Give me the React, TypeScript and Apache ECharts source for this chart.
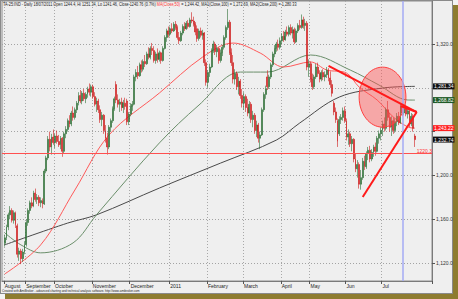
import React, { useEffect, useRef } from "react";
import * as echarts from "echarts";

// ---- axis / calendar ----
const months = ["August", "September", "October", "November", "December", "2011", "February", "March", "April", "May", "Jun", "Jul"];
const barsPerMonth = [12, 16, 21, 21, 22, 21, 20, 21, 16, 20, 20, 19];
const leadingBlanks = 1;
const trailingBlanks = 9;
const gridValues = [1120, 1160, 1200, 1240, 1280, 1320];
// 1,280.0 and 1,240.0 are hidden under the value boxes in the original
const yTickLabels = [1120, 1160, 1200, 1320];
const yMin = 1103.6;
const yMax = 1359.3;

// ---- daily OHLC (Aug 2010 .. Jul 2011) ----
const opens = [
  1138, 1143, 1153, 1164, 1168, 1159, 1166, 1154, 1128, 1131, 1124, 1130,
  1137, 1157, 1168, 1175, 1172, 1184, 1178, 1180, 1175, 1177, 1174, 1204, 1216, 1233, 1226, 1235,
  1230, 1236, 1231, 1228, 1234, 1222, 1238, 1242, 1250, 1247, 1257, 1253, 1260, 1266, 1273, 1268, 1275, 1270, 1274, 1279, 1276,
  1281, 1272, 1265, 1268, 1260, 1251, 1255, 1241, 1234, 1226, 1244, 1250, 1261, 1283, 1269, 1265, 1267, 1262, 1266, 1268, 1249,
  1256, 1263, 1265, 1290, 1294, 1291, 1301, 1297, 1304, 1302, 1311, 1308, 1316, 1314, 1305, 1311, 1306, 1312, 1305, 1316, 1326, 1332,
  1329, 1334, 1332, 1338, 1335, 1326, 1323, 1330, 1336, 1334, 1339, 1336, 1342, 1341, 1338, 1334, 1325, 1332, 1328, 1330, 1303,
  1285, 1294, 1299, 1314, 1320, 1313, 1316, 1305, 1312, 1317, 1326, 1335, 1340, 1312, 1303, 1288, 1293, 1281, 1286, 1273,
  1266, 1272, 1262, 1257, 1265, 1251, 1255, 1241, 1246, 1234, 1237, 1260, 1274, 1290, 1281, 1290, 1301, 1311, 1316, 1320, 1317,
  1323, 1327, 1324, 1331, 1329, 1335, 1330, 1333, 1322, 1332, 1337, 1335, 1342, 1337, 1339, 1299,
  1302, 1288, 1281, 1290, 1299, 1293, 1288, 1294, 1290, 1292, 1296, 1289, 1283, 1266, 1258, 1250, 1238, 1251, 1253, 1259,
  1250, 1235, 1238, 1229, 1233, 1215, 1206, 1210, 1192, 1198, 1213, 1208, 1220, 1223, 1215, 1221, 1226, 1222, 1234, 1238,
  1241, 1247, 1243, 1260, 1253, 1244, 1250, 1241, 1249, 1254, 1248, 1263, 1257, 1261, 1256, 1259, 1247, 1254, 1236,
];
const highs = [
  1146, 1155, 1166, 1172, 1170, 1168, 1167, 1156, 1134, 1133, 1133, 1140,
  1160, 1170, 1177, 1180, 1186, 1188, 1183, 1182, 1180, 1179, 1206, 1218, 1236, 1240, 1238, 1242,
  1238, 1241, 1237, 1236, 1235, 1240, 1245, 1252, 1255, 1259, 1263, 1262, 1268, 1276, 1278, 1277, 1279, 1276, 1281, 1284, 1283,
  1283, 1276, 1271, 1270, 1264, 1258, 1256, 1246, 1239, 1246, 1252, 1263, 1272, 1286, 1274, 1270, 1271, 1269, 1271, 1270, 1258,
  1266, 1268, 1292, 1297, 1300, 1303, 1305, 1306, 1310, 1313, 1317, 1318, 1321, 1318, 1313, 1316, 1314, 1313, 1318, 1328, 1334, 1336,
  1336, 1339, 1340, 1341, 1337, 1331, 1332, 1338, 1340, 1341, 1342, 1344, 1349, 1345, 1340, 1337, 1334, 1335, 1333, 1331, 1306,
  1296, 1302, 1316, 1323, 1322, 1319, 1317, 1315, 1319, 1328, 1337, 1352, 1342, 1316, 1310, 1297, 1295, 1290, 1288, 1279,
  1276, 1274, 1270, 1268, 1267, 1259, 1257, 1250, 1248, 1240, 1262, 1276, 1282, 1296, 1292, 1303, 1313, 1319, 1322, 1324, 1326,
  1330, 1332, 1333, 1336, 1337, 1338, 1336, 1335, 1334, 1339, 1342, 1347, 1345, 1343, 1341, 1306,
  1304, 1293, 1292, 1302, 1303, 1296, 1296, 1297, 1295, 1299, 1298, 1295, 1287, 1268, 1262, 1252, 1254, 1256, 1262, 1263,
  1252, 1242, 1240, 1236, 1234, 1220, 1214, 1212, 1205, 1216, 1218, 1222, 1226, 1227, 1224, 1228, 1230, 1236, 1241, 1244,
  1250, 1253, 1262, 1268, 1257, 1254, 1253, 1252, 1257, 1258, 1266, 1266, 1264, 1263, 1262, 1260, 1257, 1256, 1238,
];
const lows = [
  1135, 1141, 1150, 1160, 1157, 1156, 1152, 1125, 1122, 1119, 1121, 1128,
  1135, 1154, 1165, 1170, 1171, 1176, 1174, 1172, 1171, 1170, 1173, 1202, 1214, 1222, 1219, 1228,
  1225, 1229, 1226, 1224, 1217, 1220, 1234, 1240, 1244, 1245, 1250, 1251, 1257, 1264, 1266, 1265, 1268, 1266, 1271, 1273, 1272,
  1270, 1263, 1258, 1257, 1248, 1245, 1238, 1230, 1219, 1224, 1240, 1248, 1259, 1266, 1262, 1258, 1259, 1257, 1260, 1246, 1246,
  1254, 1259, 1264, 1286, 1288, 1290, 1294, 1295, 1299, 1301, 1306, 1306, 1310, 1303, 1302, 1303, 1304, 1302, 1304, 1315, 1322, 1326,
  1327, 1330, 1331, 1333, 1324, 1320, 1322, 1328, 1332, 1333, 1334, 1335, 1339, 1336, 1328, 1322, 1323, 1326, 1324, 1300, 1282,
  1280, 1290, 1298, 1312, 1310, 1308, 1302, 1303, 1309, 1315, 1324, 1333, 1310, 1300, 1284, 1283, 1278, 1274, 1270, 1262,
  1260, 1258, 1254, 1252, 1248, 1244, 1238, 1235, 1230, 1224, 1236, 1258, 1270, 1278, 1279, 1288, 1299, 1308, 1313, 1314, 1315,
  1320, 1322, 1323, 1327, 1327, 1328, 1325, 1320, 1321, 1330, 1333, 1334, 1334, 1332, 1296, 1290,
  1285, 1278, 1279, 1288, 1290, 1285, 1286, 1287, 1286, 1289, 1286, 1280, 1272, 1255, 1248, 1226, 1236, 1247, 1250, 1248,
  1232, 1228, 1226, 1222, 1212, 1203, 1198, 1188, 1187, 1196, 1205, 1206, 1214, 1212, 1213, 1217, 1218, 1221, 1229, 1232,
  1236, 1240, 1241, 1250, 1240, 1236, 1238, 1239, 1245, 1246, 1247, 1254, 1255, 1254, 1252, 1244, 1245, 1240, 1226,
];
const closes = [
  1143, 1153, 1164, 1168, 1159, 1166, 1155, 1128, 1131, 1124, 1130, 1137,
  1157, 1168, 1175, 1172, 1184, 1178, 1180, 1175, 1177, 1174, 1204, 1216, 1233, 1226, 1235, 1230,
  1236, 1231, 1228, 1234, 1222, 1238, 1242, 1250, 1247, 1257, 1253, 1260, 1266, 1273, 1268, 1275, 1270, 1274, 1279, 1276, 1281,
  1272, 1265, 1268, 1260, 1251, 1255, 1241, 1234, 1226, 1244, 1250, 1261, 1270, 1269, 1265, 1267, 1262, 1266, 1263, 1249, 1256,
  1263, 1265, 1290, 1294, 1291, 1301, 1297, 1304, 1302, 1311, 1308, 1316, 1314, 1305, 1311, 1306, 1312, 1305, 1316, 1326, 1332, 1329,
  1334, 1332, 1338, 1335, 1326, 1323, 1330, 1336, 1334, 1339, 1336, 1342, 1341, 1338, 1331, 1325, 1332, 1328, 1330, 1303, 1285,
  1294, 1299, 1314, 1320, 1313, 1316, 1305, 1312, 1317, 1326, 1335, 1340, 1312, 1303, 1288, 1293, 1281, 1286, 1273, 1266,
  1272, 1262, 1257, 1265, 1251, 1255, 1241, 1246, 1234, 1237, 1260, 1274, 1279, 1281, 1290, 1301, 1311, 1316, 1320, 1317, 1323,
  1327, 1324, 1331, 1329, 1335, 1330, 1333, 1322, 1332, 1337, 1335, 1342, 1337, 1339, 1299, 1302,
  1288, 1281, 1290, 1299, 1293, 1288, 1294, 1290, 1292, 1296, 1289, 1283, 1275, 1258, 1251, 1231, 1251, 1253, 1259, 1250,
  1235, 1238, 1229, 1233, 1215, 1206, 1210, 1192, 1198, 1213, 1208, 1220, 1223, 1215, 1221, 1226, 1222, 1234, 1238, 1241,
  1247, 1243, 1260, 1253, 1244, 1250, 1241, 1249, 1254, 1248, 1263, 1257, 1261, 1256, 1259, 1247, 1254, 1243, 1232.74,
];

// ---- moving averages, read at points along the curves: [bar, value] ----
const ma50Points: [number, number][] = [
  [0, 1110], [20, 1136.6], [39, 1186.7], [58, 1237], [86, 1275.3], [110, 1308.1], [127, 1320.9],
  [142, 1311.8], [155, 1299], [170, 1303.6], [179, 1296.3], [190, 1293.5], [197, 1280.7],
  [207, 1268.9], [216, 1253.4], [224, 1244.3], [228, 1243.22],
];
const ma100Points: [number, number][] = [
  [0, 1147.6], [9, 1136.6], [20, 1129.3], [38, 1138.4], [51, 1164], [86, 1229.7], [108, 1264.3],
  [131, 1294.4], [146, 1294.4], [170, 1310], [192, 1296.3], [208, 1282.6], [224, 1268.9], [228, 1268.82],
];
const ma200Points: [number, number][] = [
  [0, 1136.6], [35, 1156.5], [51, 1164], [86, 1188.5], [120, 1211.3], [151, 1232.3], [164, 1247.9],
  [186, 1271.6], [210, 1279.8], [228, 1281.34],
];

// ---- annotations (in bar / price units) ----
const supportLevel = 1220.3;
const cursorBar = 221;
const trendLines: [number, number][][] = [
  [[180, 1300], [229, 1257.9]],
  [[229, 1257.9], [199, 1180.3]],
  [[220, 1263.4], [229, 1257.9]],
];
const highlight = { bar: 210, value: 1271.5, halfWidthBars: 13, halfHeight: 27.4 };
const lastValues = { ma200: 1281.34, ma100: 1268.82, ma50: 1243.22, close: 1232.74 };

const titleMain = "TA-25:IND - Daily 18/07/2011 Open 1244.4, Hi 1251.34, Lo 1241.46, Close 1240.76 (0.7%) ";
const titleMa50 = "MA(Close,50)";
const titleRest = " = 1,244.42, MA1(Close,100) = 1,272.69, MA2(Close,200) = 1,280.33";
const credits = "Created with AmiBroker - advanced charting and technical analysis software. http://www.amibroker.com";

// ---- build categories ----
const categories: string[] = [];
const monthStarts = new Set<number>();
for (let i = 0; i < leadingBlanks; i++) categories.push(`pad-${i}`);
months.forEach((m, mi) => {
  monthStarts.add(categories.length);
  for (let k = 0; k < barsPerMonth[mi]; k++) categories.push(`${m}|${k + 1}`);
});
for (let i = 0; i < trailingBlanks; i++) categories.push(`end-${i}`);

const cat = (bar: number) => bar + leadingBlanks;
const FONT = "Liberation Sans, Arial, sans-serif";
const fmt = (v: number, d: number) =>
  v.toLocaleString("en-US", { minimumFractionDigits: d, maximumFractionDigits: d });

function valueBox(value: number, bg: string, fg: string) {
  return {
    yAxis: value,
    lineStyle: { width: 0, color: "transparent" },
    label: {
      show: true,
      position: "end",
      distance: 1,
      formatter: fmt(value, 2),
      backgroundColor: bg,
      color: fg,
      fontSize: 5,
      fontFamily: FONT,
      padding: [1, 1, 0, 1],
    },
  };
}

function buildOption(): any {
  const candleData = opens.map((o, i) => [cat(i), o, closes[i], lows[i], highs[i]]);
  const toLine = (pts: [number, number][]) => pts.map(([b, v]) => [cat(b), v]);

  const series: any[] = [
    {
      type: "line",
      data: [],
      z: 1,
      silent: true,
      markLine: {
        z: 1,
        silent: true,
        symbol: "none",
        label: { show: false },
        lineStyle: { color: "#a3a3a3", width: 1, type: [1, 2] },
        data: gridValues.map((v) => ({ yAxis: v })),
      },
    },
    {
      type: "line",
      name: "MA200",
      data: toLine(ma200Points),
      smooth: 0.35,
      showSymbol: false,
      silent: true,
      z: 2,
      lineStyle: { color: "#4a4a4a", width: 1 },
      markLine: { symbol: "none", silent: true, data: [valueBox(lastValues.ma200, "#111111", "#ffffff")] },
    },
    {
      type: "line",
      name: "MA100",
      data: toLine(ma100Points),
      smooth: 0.35,
      showSymbol: false,
      silent: true,
      z: 2,
      lineStyle: { color: "#6b8f6b", width: 1 },
      markLine: { symbol: "none", silent: true, data: [valueBox(lastValues.ma100, "#1f5a26", "#ffffff")] },
    },
    {
      type: "line",
      name: "MA50",
      data: toLine(ma50Points),
      smooth: 0.35,
      showSymbol: false,
      silent: true,
      z: 2,
      lineStyle: { color: "#ff5a5a", width: 1 },
      markLine: { symbol: "none", silent: true, data: [valueBox(lastValues.ma50, "#ff2020", "#ffffff")] },
    },
    {
      type: "candlestick",
      data: candleData,
      encode: { x: 0, y: [1, 2, 3, 4] },
      barWidth: 1.4,
      z: 3,
      silent: true,
      itemStyle: {
        color: "#2d6e35",
        color0: "#cf1b1b",
        borderColor: "#2d6e35",
        borderColor0: "#cf1b1b",
        borderWidth: 0.6,
      },
      markLine: {
        symbol: "none",
        silent: true,
        data: [
          {
            yAxis: supportLevel,
            lineStyle: { color: "#ff5050", width: 1, type: "solid" },
            label: {
              show: true,
              position: "insideEndTop",
              distance: 0,
              formatter: String(supportLevel),
              color: "#ff3030",
              fontSize: 5,
              fontFamily: FONT,
            },
          },
          {
            xAxis: categories[cat(cursorBar)],
            lineStyle: { color: "#a4abf5", width: 1.5, type: "solid" },
            label: { show: false },
          },
          valueBox(lastValues.close, "#111111", "#ffffff"),
        ],
      },
    },
    {
      type: "custom",
      silent: true,
      z: 4,
      data: [[cat(highlight.bar), highlight.value, highlight.halfWidthBars, highlight.halfHeight]],
      encode: { x: 0, y: 1 },
      renderItem: (params: any, api: any) => {
        const c = api.coord([api.value(0), api.value(1)]);
        const band = api.size([1, 0])[0];
        const s = api.size([0, api.value(3)]);
        return {
          type: "ellipse",
          shape: { cx: c[0], cy: c[1], rx: band * api.value(2), ry: s[1] },
          style: { fill: "rgba(255,80,80,0.45)", stroke: "#ff4040", lineWidth: 1 },
        };
      },
    },
  ];

  trendLines.forEach((seg) => {
    series.push({
      type: "line",
      data: seg.map(([b, v]) => [cat(b), v]),
      showSymbol: false,
      silent: true,
      z: 5,
      lineStyle: { color: "#ff1a1a", width: 2 },
    });
  });

  return {
    animation: false,
    backgroundColor: "transparent",
    textStyle: { fontFamily: FONT },
    grid: {
      left: 2,
      right: 26,
      top: 1,
      bottom: 18,
      show: true,
      borderColor: "#8c8c8c",
      borderWidth: 1,
      backgroundColor: "transparent",
    },
    xAxis: {
      type: "category",
      data: categories,
      boundaryGap: true,
      axisLine: { show: true, lineStyle: { color: "#7a7a7a", width: 1 } },
      axisTick: {
        show: true,
        interval: (i: number) => monthStarts.has(i),
        length: 3,
        lineStyle: { color: "#555" },
      },
      axisLabel: {
        interval: (i: number) => monthStarts.has(i),
        formatter: (v: string) => v.split("|")[0],
        align: "left",
        fontSize: 5,
        color: "#222",
        margin: 2,
        fontFamily: FONT,
      },
      splitLine: {
        show: true,
        interval: (i: number) => monthStarts.has(i),
        lineStyle: { color: "#a8a8a8", width: 1, type: [1, 2] },
      },
    },
    yAxis: {
      type: "value",
      position: "right",
      min: yMin,
      max: yMax,
      axisLine: { show: true, lineStyle: { color: "#7a7a7a", width: 1 } },
      axisTick: { show: true, customValues: gridValues, length: 3, lineStyle: { color: "#555" } },
      axisLabel: {
        customValues: yTickLabels,
        formatter: (v: number) => fmt(v, 1),
        fontSize: 5,
        color: "#333",
        margin: 4,
        fontFamily: FONT,
      },
      splitLine: { show: false },
    },
    graphic: [
      {
        type: "text",
        x: 3,
        y: 2,
        scaleX: 0.76,
        style: {
          text: `{a|${titleMain}}{r|${titleMa50}}{a|${titleRest}}`,
          verticalAlign: "top",
          rich: {
            a: { fontSize: 5, fill: "#222", fontFamily: FONT },
            r: { fontSize: 5, fill: "#ff3030", fontFamily: FONT },
          },
        },
      },
      {
        type: "text",
        x: 2,
        y: 289,
        scaleX: 0.72,
        style: { text: credits, fontSize: 4.2, fill: "#222", fontFamily: FONT, verticalAlign: "top" },
      },
    ],
    series,
  };
}

export default function App() {
  const ref = useRef<HTMLDivElement>(null);
  useEffect(() => {
    if (!ref.current) return;
    const chart = echarts.init(ref.current, null, { renderer: "svg" });
    chart.setOption(buildOption());
    return () => chart.dispose();
  }, []);
  return (
    <div style={{ position: "fixed", left: 0, top: 0, width: 458, height: 299, background: "#f3f3f3", overflow: "hidden" }}>
      <div style={{ position: "absolute", left: 5, top: 5, width: 453, height: 294, background: "#8e7c30" }} />
      <div
        style={{
          position: "absolute",
          left: 0,
          top: 0,
          width: 453,
          height: 294,
          background: "#efefef",
          border: "1px solid #8a8a8a",
          boxSizing: "border-box",
        }}
      />
      <div ref={ref} style={{ position: "absolute", left: 0, top: 0, width: 458, height: 299 }} />
    </div>
  );
}
